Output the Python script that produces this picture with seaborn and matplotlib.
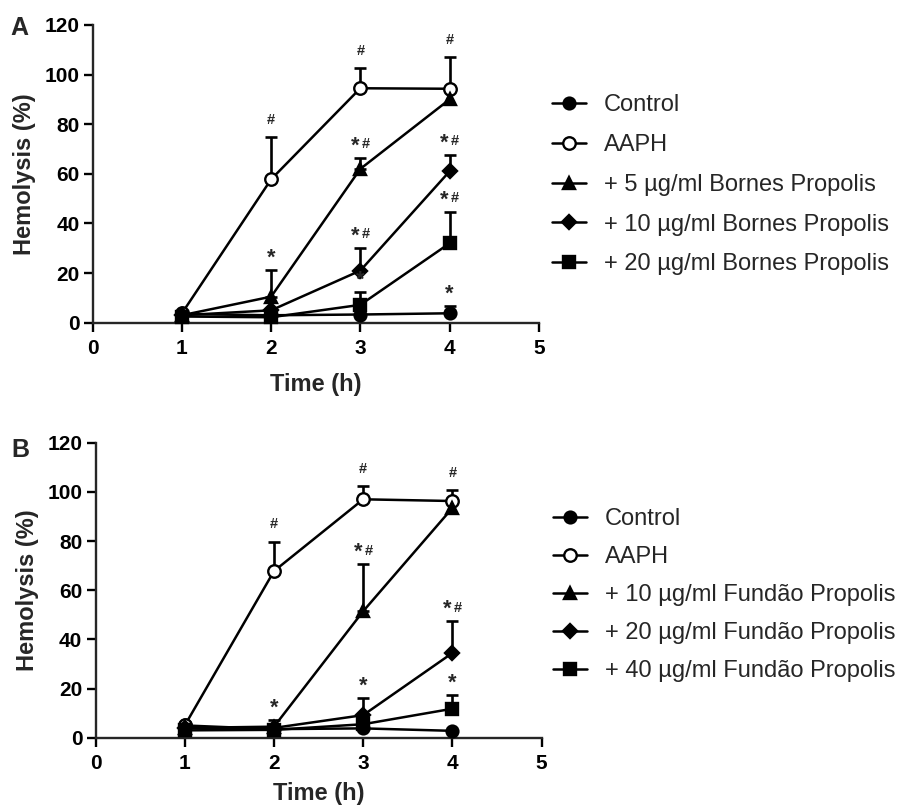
import numpy as np
import seaborn as sns
import matplotlib.pyplot as plt

# Hemolysis (%) over time, mean with upper error bar
time = [1, 2, 3, 4]

# panel A - Bornes propolis
control_a = [3.5, 3.0, 3.3, 3.8]
control_a_err = [0, 0, 0, 2.9]
aaph_a = [3.8, 57.8, 94.5, 94.3]
aaph_a_err = [0, 17.0, 8.0, 12.8]
bp5_a = [3.0, 10.5, 62.0, 90.0]
bp5_a_err = [0, 10.7, 4.5, 0]
bp10_a = [3.0, 5.0, 21.0, 61.0]
bp10_a_err = [0, 0, 9.2, 6.5]
bp20_a = [2.5, 2.2, 7.2, 32.0]
bp20_a_err = [0, 0, 5.0, 12.8]

# panel B - Fundão propolis
control_b = [5.0, 3.5, 3.8, 2.8]
control_b_err = [0, 0, 0, 0]
aaph_b = [5.0, 67.8, 97.0, 96.3]
aaph_b_err = [0, 12.0, 5.4, 4.3]
fp10_b = [4.0, 4.5, 51.5, 93.5]
fp10_b_err = [0, 2.8, 19.0, 0]
fp20_b = [4.0, 4.0, 9.2, 34.5]
fp20_b_err = [0, 0, 6.8, 12.8]
fp40_b = [3.0, 3.2, 5.5, 11.8]
fp40_b_err = [0, 0, 0, 5.4]

# significance marks (* vs AAPH, # vs control)
sig_control_a = ['', '', '', '*']
sig_aaph_a = ['', '#', '#', '#']
sig_bp5_a = ['', '*', '*#', '']
sig_bp10_a = ['', '', '*#', '*#']
sig_bp20_a = ['', '', '*', '*#']

sig_control_b = ['', '', '', '']
sig_aaph_b = ['', '#', '#', '#']
sig_fp10_b = ['', '*', '*#', '']
sig_fp20_b = ['', '', '*', '*#']
sig_fp40_b = ['', '', '', '*']

labels_a = ['Control', 'AAPH', '+ 5 \u00b5g/ml Bornes Propolis',
            '+ 10 \u00b5g/ml Bornes Propolis', '+ 20 \u00b5g/ml Bornes Propolis']
labels_b = ['Control', 'AAPH', '+ 10 \u00b5g/ml Fund\u00e3o Propolis',
            '+ 20 \u00b5g/ml Fund\u00e3o Propolis', '+ 40 \u00b5g/ml Fund\u00e3o Propolis']

sns.set_style('ticks')
plt.rcParams['font.family'] = ['Liberation Sans', 'DejaVu Sans']
plt.rcParams['font.weight'] = 'bold'
plt.rcParams['axes.labelweight'] = 'bold'

# marker style per series: (marker, facecolor)
styles = [('o', 'black'), ('o', 'white'), ('^', 'black'), ('D', 'black'), ('s', 'black')]
msizes = [8.5, 9, 9, 7.5, 8]


def mark(ax, t, y, s):
    # asterisk drawn bigger than the hash, like the original figure
    if s == '*#':
        parts = [('*', -3.6), ('#', 3.8)]
        hash_dy = 10
    else:
        parts = [(s, 0)]
        hash_dy = 12.5
    for ch, dx in parts:
        if ch == '*':
            ax.annotate('*', xy=(t, y), xytext=(dx, 8.5), textcoords='offset points',
                        ha='center', va='center', fontsize=15.5, fontweight='bold')
        else:
            ax.annotate('#', xy=(t, y), xytext=(dx, hash_dy), textcoords='offset points',
                        ha='center', va='center', fontsize=10.5, fontweight='bold')


def draw_panel(ax, series, errs, sigs, labels, letter, legend_anchor, spacing, xpad):
    handles = []
    for vals, err, sig, lab, (m, fc), ms in zip(series, errs, sigs, labels, styles, msizes):
        idx = [i for i, e in enumerate(err) if e > 0]
        if idx:
            ax.errorbar([time[i] for i in idx], [vals[i] for i in idx],
                        yerr=[[0] * len(idx), [err[i] for i in idx]],
                        fmt='none', ecolor='black', elinewidth=1.9,
                        capsize=4, capthick=1.9, zorder=2, clip_on=False)
        sns.lineplot(x=time, y=vals, ax=ax, color='black', linewidth=1.8,
                     marker=m, markersize=ms, markerfacecolor=fc,
                     markeredgecolor='black', markeredgewidth=1.7,
                     zorder=3, clip_on=False)
        handles.append(ax.lines[-1])
        for t, v, e, s in zip(time, vals, err, sig):
            if s:
                mark(ax, t, v + e, s)

    ax.set_xlim(0, 5)
    ax.set_ylim(0, 120)
    ax.set_xticks(range(0, 6))
    ax.set_yticks(range(0, 121, 20))
    sns.despine(ax=ax)
    for sp in ['left', 'bottom']:
        ax.spines[sp].set_linewidth(1.7)
    ax.tick_params(axis='both', direction='out', length=6.5, width=1.7,
                   labelsize=15, colors='black')
    ax.tick_params(axis='x', pad=5)
    ax.tick_params(axis='y', pad=3)
    ax.set_xlabel('Time (h)', fontsize=17, labelpad=xpad)
    ax.set_ylabel('Hemolysis (%)', fontsize=17, labelpad=6)

    ax.legend(handles, labels, loc='center left', bbox_to_anchor=legend_anchor,
              bbox_transform=ax.figure.transFigure, frameon=False,
              prop={'weight': 'normal', 'size': 17}, borderpad=0, borderaxespad=0,
              handlelength=1.45, handletextpad=0.75, labelspacing=spacing)
    ax.figure.text(letter[1], letter[2], letter[0], fontsize=18, fontweight='bold')


fig = plt.figure(figsize=(9.03, 8.09), dpi=100)
ax_a = fig.add_axes([0.1027, 0.6011, 0.4939, 0.368])
ax_b = fig.add_axes([0.1058, 0.0881, 0.4941, 0.3646])

draw_panel(ax_a,
           [control_a, aaph_a, bp5_a, bp10_a, bp20_a],
           [control_a_err, aaph_a_err, bp5_a_err, bp10_a_err, bp20_a_err],
           [sig_control_a, sig_aaph_a, sig_bp5_a, sig_bp10_a, sig_bp20_a],
           labels_a, ('A', 0.012, 0.9567), (0.611, 0.7715), 0.75, 11)

draw_panel(ax_b,
           [control_b, aaph_b, fp10_b, fp20_b, fp40_b],
           [control_b_err, aaph_b_err, fp10_b_err, fp20_b_err, fp40_b_err],
           [sig_control_b, sig_aaph_b, sig_fp10_b, sig_fp20_b, sig_fp40_b],
           labels_b, ('B', 0.013, 0.4351), (0.6124, 0.2645), 0.68, 7)

fig.savefig('out.png', dpi=100)
plt.close(fig)
